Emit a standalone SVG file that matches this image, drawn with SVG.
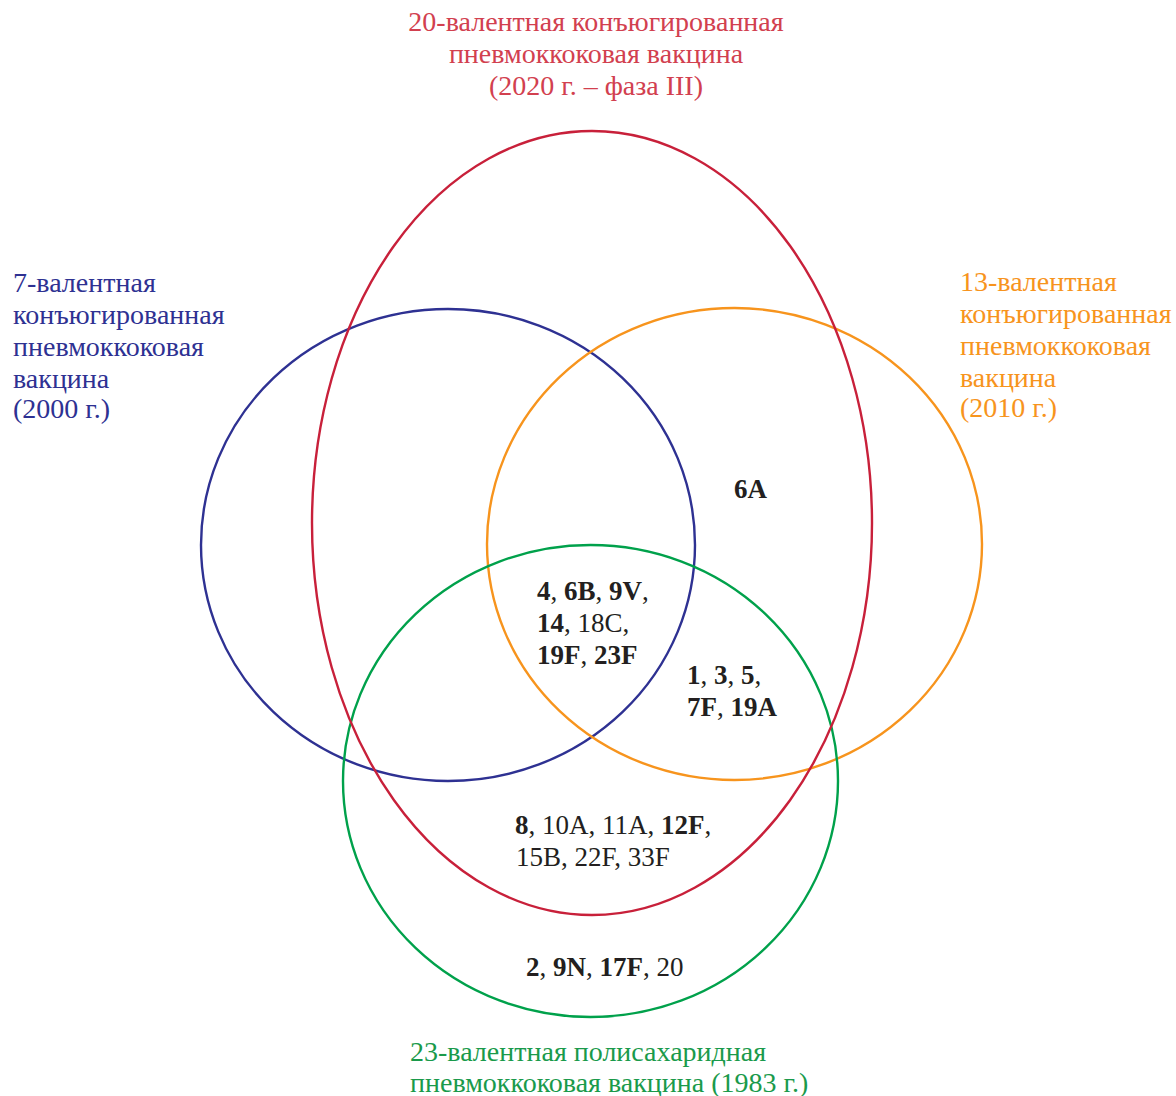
<svg xmlns="http://www.w3.org/2000/svg" width="1176" height="1096" viewBox="0 0 1176 1096">
<style>
  text { font-family: 'Liberation Serif', 'DejaVu Serif', serif; }
  .lbl { font-size: 28px; }
  .num { font-size: 27px; fill: #231f20; }
  .b { font-weight: bold; }
  .set { fill: none; stroke-width: 2.4; }
</style>
<rect width="1176" height="1096" fill="#ffffff"/>
<g id="sets">
  <ellipse id="set-7" class="set" cx="448" cy="545" rx="247" ry="236" stroke="#2e3192"/>
  <ellipse id="set-13" class="set" cx="734.5" cy="544" rx="247.5" ry="236" stroke="#f7941d"/>
  <ellipse id="set-23" class="set" cx="590.5" cy="781" rx="247.5" ry="236" stroke="#00a14b"/>
  <ellipse id="set-20" class="set" cx="592" cy="523" rx="280" ry="392" stroke="#c8203a"/>
</g>
<g id="label-20" class="lbl" fill="#d2404f" text-anchor="middle">
  <text x="596" y="31">20-валентная конъюгированная</text>
  <text x="596" y="63">пневмоккоковая вакцина</text>
  <text x="596" y="95">(2020 г. – фаза III)</text>
</g>
<g id="label-7" class="lbl" fill="#2e3192">
  <text x="13" y="292">7-валентная</text>
  <text x="13" y="324">конъюгированная</text>
  <text x="13" y="356">пневмоккоковая</text>
  <text x="13" y="388">вакцина</text>
  <text x="13" y="418">(2000 г.)</text>
</g>
<g id="label-13" class="lbl" fill="#f7941d">
  <text x="960" y="291">13-валентная</text>
  <text x="960" y="323">конъюгированная</text>
  <text x="960" y="355">пневмоккоковая</text>
  <text x="960" y="387">вакцина</text>
  <text x="960" y="417">(2010 г.)</text>
</g>
<g id="label-23" class="lbl" fill="#1a9a4b">
  <text x="410" y="1061">23-валентная полисахаридная</text>
  <text x="410" y="1092">пневмоккоковая вакцина (1983 г.)</text>
</g>
<g id="region-6A" class="num">
  <text x="734" y="498" class="b">6A</text>
</g>
<g id="region-center" class="num">
  <text x="537" y="600"><tspan class="b">4</tspan>, <tspan class="b">6B</tspan>, <tspan class="b">9V</tspan>,</text>
  <text x="537" y="632"><tspan class="b">14</tspan>, 18C,</text>
  <text x="537" y="664"><tspan class="b">19F</tspan>, <tspan class="b">23F</tspan></text>
</g>
<g id="region-1-3-5" class="num">
  <text x="687" y="684"><tspan class="b">1</tspan>, <tspan class="b">3</tspan>, <tspan class="b">5</tspan>,</text>
  <text x="687" y="716"><tspan class="b">7F</tspan>, <tspan class="b">19A</tspan></text>
</g>
<g id="region-8" class="num">
  <text x="515" y="834"><tspan class="b">8</tspan>, 10A, 11A, <tspan class="b">12F</tspan>,</text>
  <text x="516" y="866">15B, 22F, 33F</text>
</g>
<g id="region-2" class="num">
  <text x="526" y="976"><tspan class="b">2</tspan>, <tspan class="b">9N</tspan>, <tspan class="b">17F</tspan>, 20</text>
</g>
</svg>
